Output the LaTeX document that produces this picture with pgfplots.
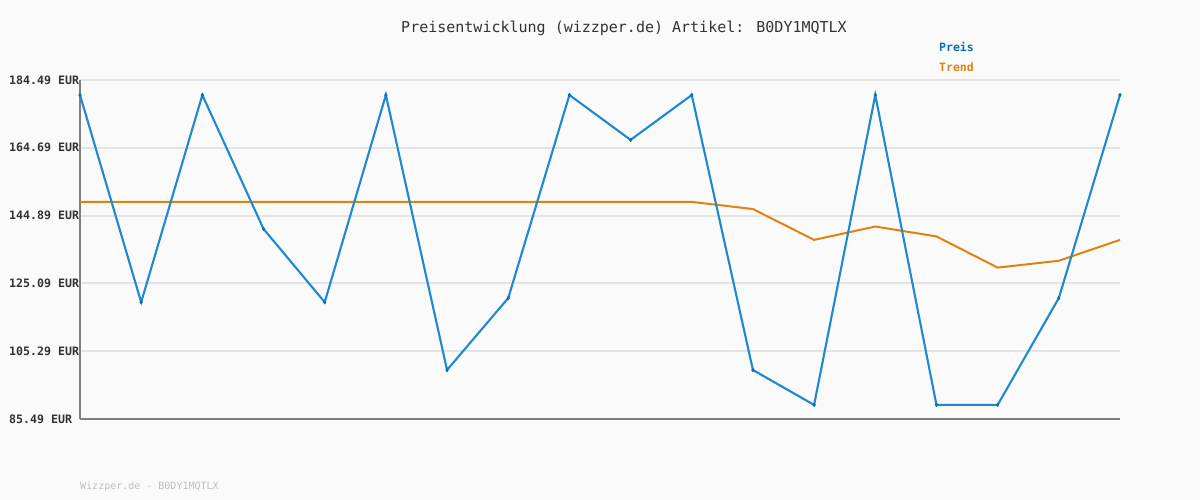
\documentclass[border=0pt]{standalone}
\usepackage{pgfplots}
\pgfplotsset{compat=1.18}
\usepackage{fontspec}
\setmainfont{DejaVu Sans Mono}
\setmonofont{DejaVu Sans Mono}

\definecolor{bg}{HTML}{FAFAFA}
\definecolor{preis}{HTML}{1E88D0}
\definecolor{preismark}{HTML}{0A6FB8}
\definecolor{trend}{HTML}{E0820F}
\definecolor{gridc}{HTML}{E4E4E4}
\definecolor{axisc}{HTML}{7F7F7F}
\definecolor{txt}{HTML}{333333}

\begin{document}
\begin{tikzpicture}[x=1pt,y=1pt]
  \fill[bg] (0,0) rectangle (1200,500);

  \begin{axis}[
    at={(80pt,81pt)}, anchor=south west,
    scale only axis, width=1040pt, height=339pt,
    xmin=0, xmax=17, ymin=85.49, ymax=184.49,
    axis x line=bottom, axis y line=left,
    axis line style={-, draw=axisc, line width=2.2pt},
    xtick=\empty,
    ytick={85.49,105.29,125.09,144.89,164.69,184.49},
    yticklabels={85.49 EUR,105.29 EUR,125.09 EUR,144.89 EUR,164.69 EUR,184.49 EUR},
    yticklabel style={anchor=west, inner sep=0pt, xshift=-71pt, text=txt,
      font=\fontsize{11.6}{12}\selectfont\bfseries},
    major tick length=0pt,
    ymajorgrids, grid style={gridc, line width=2pt},
    clip=false,
  ]
    % Trend
    \addplot[trend, line width=2pt, mark=none] coordinates {
      (0,148.9) (1,148.9) (2,148.9) (3,148.9) (4,148.9) (5,148.9)
      (6,148.9) (7,148.9) (8,148.9) (9,148.9) (10,148.9)
      (11,146.8) (12,137.8) (13,141.7) (14,138.8) (15,129.7)
      (16,131.7) (17,137.8)
    };
    % Preis
    \addplot[preis, line width=2.1pt, mark=diamond*, mark size=1.8pt,
      mark options={fill=preismark, draw=preismark, line width=0.5pt}] coordinates {
      (0,180.1) (1,119.6) (2,180.1) (3,141.0) (4,119.6) (5,180.1)
      (6,99.8) (7,120.8) (8,180.1) (9,167.0) (10,180.1) (11,99.8)
      (12,89.6) (13,180.1) (14,89.6) (15,89.6) (16,120.8) (17,180.1)
    };
  \end{axis}

  \node[text=txt, font=\fontsize{15}{15}\selectfont] at (624,472)
    {Preisentwicklung (wizzper.de) Artikel: B0DY1MQTLX};
  \node[anchor=west, inner sep=0pt, text=preismark, font=\fontsize{11.5}{12}\selectfont\bfseries]
    at (939,453) {Preis};
  \node[anchor=west, inner sep=0pt, text=trend, font=\fontsize{11.5}{12}\selectfont\bfseries]
    at (939,433) {Trend};
  \node[anchor=west, inner sep=0pt, text=black!25, font=\fontsize{10}{10}\selectfont]
    at (80,13) {Wizzper.de - B0DY1MQTLX};
\end{tikzpicture}
\end{document}
